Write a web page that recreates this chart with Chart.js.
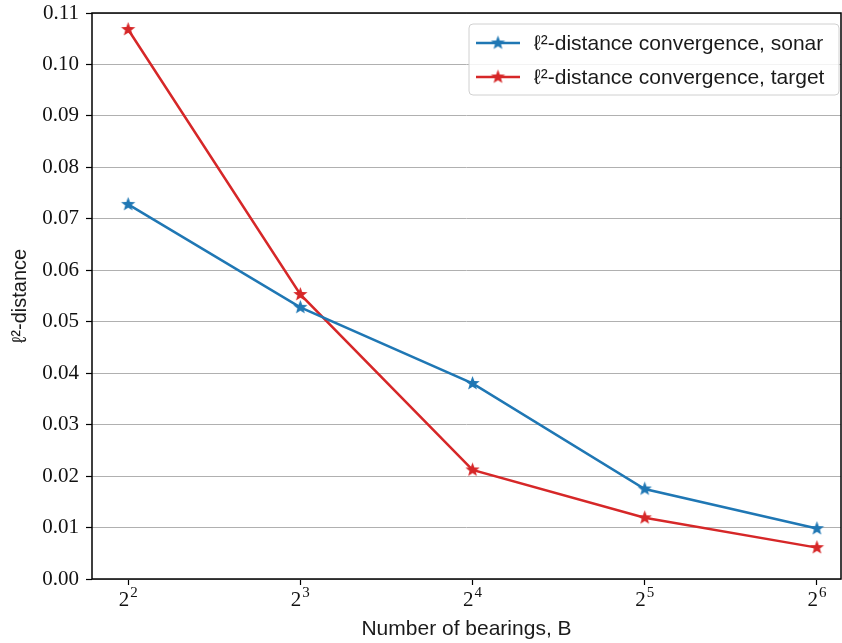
<!doctype html>
<html>
<head>
    <meta charset="utf-8">
    <title>l2-distance convergence</title>
    <script src="https://cdn.jsdelivr.net/npm/chart.js@4.4.0/dist/chart.umd.min.js"></script>
    <style>
    html, body { margin: 0; padding: 0; background: #fff; }
    #wrap { width: 842px; height: 643px; }
    </style>
</head>
<body>
<div id="wrap"><canvas id="c" width="842" height="643"></canvas></div>
<script>
// data
var exponents = [2, 3, 4, 5, 6];          // B = 2^k
var sonar  = [0.0728, 0.0528, 0.0380, 0.0175, 0.0098];
var target = [0.1068, 0.0553, 0.0212, 0.0119, 0.0061];
var seriesLabels = ['ℓ²-distance convergence, sonar', 'ℓ²-distance convergence, target'];
var yTicks = [0, 0.01, 0.02, 0.03, 0.04, 0.05, 0.06, 0.07, 0.08, 0.09, 0.10, 0.11];

var BLUE = '#1f77b4', RED = '#d62728';
var SERIF = '"Liberation Serif", serif';
var SANS = '"Liberation Sans", Arial, sans-serif';

function makeStar(color, r) {
    var s = Math.ceil(r * 2 + 2);
    var cv = document.createElement('canvas');
    cv.width = s; cv.height = s;
    var g = cv.getContext('2d');
    g.beginPath();
    for (var i = 0; i < 10; i++) {
        var rad = (i % 2 == 0) ? r : r * 0.42;
        var a = -Math.PI / 2 + i * Math.PI / 5;
        var px = s / 2 + rad * Math.cos(a), py = s / 2 + rad * Math.sin(a);
        if (i == 0) g.moveTo(px, py); else g.lineTo(px, py);
    }
    g.closePath();
    g.fillStyle = color;
    g.fill();
    return cv;
}
var starBlue = makeStar(BLUE, 7.5), starRed = makeStar(RED, 7.5);

function pts(arr) {
    return exponents.map(function (e, i) { return {x: e, y: arr[i]}; });
}

// frame, x tick labels 2^k and the legend, drawn inside the axes
var framePlugin = {
    id: 'frame',
    afterDraw: function (chart) {
        var ctx = chart.ctx, a = chart.chartArea;
        ctx.save();
        ctx.strokeStyle = '#000';
        ctx.lineWidth = 1.5;
        ctx.strokeRect(a.left, a.top, a.right - a.left, a.bottom - a.top);

        // x tick labels with a raised exponent
        var xs = chart.scales.x;
        ctx.fillStyle = '#111';
        ctx.textBaseline = 'alphabetic';
        ctx.textAlign = 'left';
        exponents.forEach(function (e) {
            var px = xs.getPixelForValue(e);
            ctx.font = '21px ' + SERIF;
            var wb = ctx.measureText('2').width;
            ctx.font = '15px ' + SERIF;
            var we = ctx.measureText(String(e)).width;
            var x0 = px - (wb + we + 1) / 2;
            ctx.font = '21px ' + SERIF;
            ctx.fillText('2', x0, 606);
            ctx.font = '15px ' + SERIF;
            ctx.fillText(String(e), x0 + wb + 1, 597);
        });

        // legend
        var bx = 469, by = 24, bw = 370, bh = 71;
        ctx.fillStyle = 'rgba(255,255,255,0.85)';
        ctx.strokeStyle = '#d0d0d0';
        ctx.lineWidth = 1;
        ctx.beginPath();
        ctx.roundRect(bx, by, bw, bh, 4);
        ctx.fill();
        ctx.stroke();
        var rows = [[BLUE, starBlue, seriesLabels[0], 43], [RED, starRed, seriesLabels[1], 77]];
        rows.forEach(function (r) {
            ctx.strokeStyle = r[0];
            ctx.lineWidth = 2.5;
            ctx.beginPath();
            ctx.moveTo(476, r[3]);
            ctx.lineTo(520, r[3]);
            ctx.stroke();
            ctx.drawImage(r[1], 498 - r[1].width / 2, r[3] - r[1].height / 2);
            ctx.fillStyle = '#1a1a1a';
            ctx.font = '21px ' + SANS;
            ctx.textBaseline = 'middle';
            ctx.textAlign = 'left';
            ctx.fillText(r[2], 534, r[3] + 1);
        });
        ctx.restore();
    }
};

var ctx = document.getElementById('c').getContext('2d');
new Chart(ctx, {
    type: 'line',
    data: {
        datasets: [
            {
                label: seriesLabels[0],
                data: pts(sonar),
                borderColor: BLUE,
                backgroundColor: BLUE,
                borderWidth: 2.5,
                pointStyle: starBlue,
                tension: 0
            },
            {
                label: seriesLabels[1],
                data: pts(target),
                borderColor: RED,
                backgroundColor: RED,
                borderWidth: 2.5,
                pointStyle: starRed,
                tension: 0
            }
        ]
    },
    options: {
        responsive: false,
        animation: false,
        layout: { autoPadding: false, padding: { left: 0, right: 1, top: 13, bottom: 0 } },
        plugins: {
            legend: { display: false },
            tooltip: { enabled: false }
        },
        scales: {
            x: {
                type: 'linear',
                min: 1.79,
                max: 6.14,
                afterBuildTicks: function (s) { s.ticks = exponents.map(function (e) { return {value: e}; }); },
                afterFit: function (s) { s.height = 64; s.paddingLeft = 0; s.paddingRight = 0; },
                border: { display: false },
                grid: { drawOnChartArea: false, tickLength: 6, tickColor: '#000', tickWidth: 1.2 },
                ticks: { display: false },
                title: {
                    display: true,
                    text: 'Number of bearings, B',
                    color: '#1a1a1a',
                    padding: { top: 2, bottom: 1 },
                    font: { family: SANS, size: 21 }
                }
            },
            y: {
                min: 0,
                max: 0.11,
                afterBuildTicks: function (s) { s.ticks = yTicks.map(function (v) { return {value: v}; }); },
                afterFit: function (s) { s.width = 92; s.paddingTop = 0; s.paddingBottom = 0; },
                border: { display: false },
                grid: {
                    color: '#b0b0b0',
                    lineWidth: 1,
                    tickLength: 6,
                    tickColor: '#000',
                    tickWidth: 1.2
                },
                ticks: {
                    color: '#111',
                    padding: 7,
                    font: { family: SERIF, size: 21 },
                    callback: function (v) { return v.toFixed(2); }
                },
                title: {
                    display: true,
                    text: 'ℓ²-distance',
                    color: '#1a1a1a',
                    padding: { top: 8, bottom: 0 },
                    font: { family: SANS, size: 20 }
                }
            }
        }
    },
    plugins: [framePlugin]
});
</script>
</body>
</html>
